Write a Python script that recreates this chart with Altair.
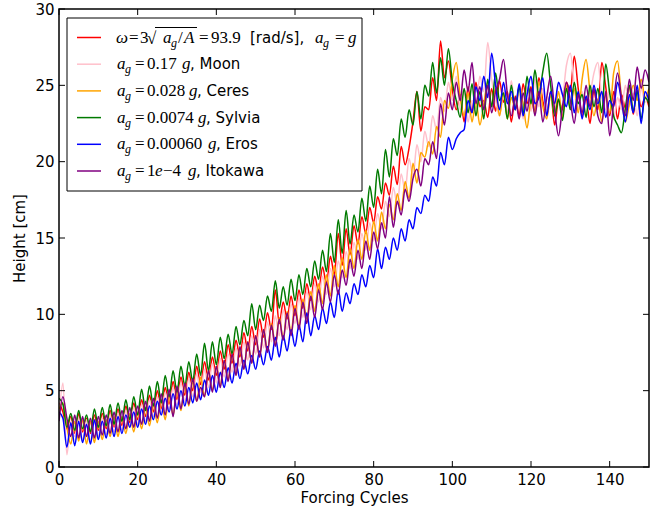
import altair as alt
import pandas as pd

# ---------------- data ----------------
cycles = list(range(151))

red = [4.2, 3.6, 2.5, 3.3, 2.2, 3.5, 2.3, 3.2, 2.2, 3.4,
       2.4, 3.5, 2.5, 3.7, 2.6, 3.8, 2.7, 4.0, 2.9, 4.2,
       3.1, 4.4, 3.3, 4.7, 3.6, 5.0, 3.8, 5.2, 4.1, 5.6,
       4.4, 5.9, 4.7, 6.2, 5.0, 6.6, 5.4, 6.9, 5.7, 7.2,
       6.0, 7.6, 6.4, 8.0, 6.8, 8.3, 7.2, 8.8, 7.6, 9.2,
       8.0, 9.7, 8.5, 10.1, 9.0, 11.6, 9.4, 10.8, 9.7, 11.2,
       9.9, 11.6, 10.4, 12.0, 10.9, 12.5, 11.5, 13.1, 12.0, 13.8,
       12.6, 15.3, 13.2, 15.6, 13.9, 15.8, 14.6, 16.4, 15.3, 17.0,
       16.0, 17.7, 16.9, 18.6, 17.8, 19.7, 18.5, 21.0, 19.8, 20.9,
       22.6, 24.6, 22.0, 23.6, 23.4, 25.5, 24.0, 27.9, 25.5, 26.6,
       24.7, 23.4, 24.4, 22.6, 24.9, 23.2, 25.2, 23.6, 24.0, 22.9,
       24.8, 23.3, 25.3, 23.9, 24.6, 22.6, 24.3, 23.0, 25.1, 23.8,
       24.9, 23.2, 25.5, 24.0, 23.1, 24.6, 22.4, 24.0, 23.4, 25.2,
       24.6, 26.9, 24.8, 23.0, 24.2, 22.5, 24.7, 23.4, 26.5, 24.9,
       23.0, 24.6, 22.8, 24.4, 23.5, 25.0, 23.1, 24.7, 23.6, 24.2,
       23.6]

moon = [3.2, 5.5, 0.8, 3.0, 2.0, 3.2, 1.7, 3.1, 1.6, 3.0,
        2.0, 3.2, 2.1, 3.4, 2.3, 3.5, 2.4, 3.7, 2.6, 3.9,
        2.8, 4.1, 3.0, 4.4, 3.3, 4.6, 3.5, 4.9, 3.8, 5.2,
        4.1, 5.5, 4.3, 5.8, 4.6, 6.1, 4.9, 6.4, 5.2, 6.8,
        5.5, 7.1, 5.9, 7.4, 6.2, 7.8, 6.6, 8.2, 7.0, 8.6,
        7.4, 9.0, 7.8, 9.5, 8.2, 9.9, 8.6, 10.3, 9.0, 10.7,
        9.4, 11.1, 9.8, 11.5, 10.3, 12.0, 10.8, 12.5, 11.3, 13.0,
        11.8, 13.5, 12.4, 14.1, 13.0, 14.7, 13.6, 15.3, 14.2, 16.0,
        14.8, 16.6, 15.6, 17.4, 16.4, 18.3, 17.2, 19.2, 18.1, 20.2,
        19.0, 21.1, 20.0, 22.0, 21.0, 23.0, 22.1, 24.2, 23.3, 25.2,
        24.0, 25.6, 23.4, 24.8, 22.6, 24.0, 23.5, 25.6, 24.6, 27.8,
        25.4, 24.0, 23.0, 24.7, 23.2, 25.3, 23.5, 24.4, 22.8, 24.9,
        23.3, 25.4, 23.6, 24.8, 22.9, 24.3, 23.2, 25.1, 24.4, 26.3,
        27.1, 25.0, 23.4, 24.6, 23.0, 24.3, 25.8, 26.5, 24.2, 23.4,
        24.8, 22.8, 24.2, 23.4, 25.0, 23.6, 24.5, 23.0, 24.8, 23.9,
        24.4]

ceres = [3.8, 4.2, 2.6, 1.5, 3.0, 1.7, 3.1, 1.5, 3.0, 1.6,
         3.0, 1.8, 3.1, 2.0, 3.3, 2.0, 3.3, 2.2, 3.5, 2.3,
         3.6, 2.5, 3.9, 2.7, 4.1, 2.9, 4.4, 3.1, 4.7, 3.4,
         5.0, 3.7, 5.3, 4.0, 5.6, 4.3, 5.9, 4.6, 6.3, 5.0,
         6.6, 5.3, 7.0, 5.7, 7.4, 6.0, 7.8, 6.4, 8.2, 6.8,
         8.6, 7.2, 9.0, 7.6, 9.4, 8.0, 9.8, 8.4, 10.2, 8.8,
         10.6, 9.2, 11.0, 9.7, 11.5, 10.2, 12.0, 10.7, 12.6, 11.2,
         13.2, 11.8, 13.7, 12.4, 14.3, 13.0, 14.9, 13.6, 15.5, 14.2,
         16.1, 14.8, 16.7, 15.6, 17.2, 16.2, 17.9, 16.8, 18.7, 17.6,
         19.9, 18.6, 20.6, 20.3, 21.3, 20.5, 22.3, 21.6, 24.0, 23.5,
         25.4, 26.5, 24.2, 23.0, 24.5, 22.6, 24.0, 22.4, 23.8, 25.2,
         23.6, 24.8, 23.0, 24.5, 22.8, 24.2, 23.4, 25.0, 23.8, 22.2,
         24.0, 23.2, 25.2, 23.6, 22.8, 24.4, 23.0, 24.6, 22.9, 25.0,
         23.5, 24.8, 23.2, 25.4, 26.7, 24.6, 23.0, 24.1, 22.6, 24.4,
         23.2, 25.8, 26.6, 24.2, 22.6, 23.8, 25.0, 24.0, 25.4, 24.2,
         24.8]

sylvia = [4.5, 4.1, 2.6, 3.5, 2.4, 3.7, 2.5, 3.4, 2.3, 3.8,
          2.6, 3.9, 2.7, 4.1, 2.8, 4.2, 3.0, 4.4, 3.1, 4.6,
          3.4, 5.1, 3.7, 5.3, 4.0, 5.6, 4.2, 6.0, 4.6, 6.3,
          4.9, 6.6, 5.3, 6.9, 5.6, 7.4, 6.0, 8.1, 6.3, 8.2,
          6.7, 8.5, 7.1, 8.7, 7.4, 9.2, 8.0, 9.6, 8.6, 10.7,
          9.0, 10.6, 9.6, 11.2, 10.2, 12.2, 10.4, 11.8, 10.6, 12.3,
          10.9, 12.6, 11.3, 13.0, 11.8, 13.5, 12.3, 14.2, 12.8, 15.3,
          13.4, 16.2, 14.0, 16.8, 14.6, 16.5, 15.4, 17.6, 16.1, 18.4,
          17.0, 19.5, 17.9, 20.8, 19.0, 21.5, 20.4, 22.8, 21.6, 23.4,
          22.4, 24.6, 22.8, 25.0, 24.3, 26.5, 24.5, 26.8, 25.0, 27.4,
          25.2, 24.0, 22.9, 24.8, 23.2, 25.1, 23.0, 24.6, 22.8, 25.4,
          23.6, 25.8, 24.0, 24.5, 22.8, 25.0, 23.4, 24.9, 23.1, 25.6,
          23.8, 26.0, 24.3, 25.9, 27.1, 25.0, 23.0, 24.1, 22.7, 24.8,
          23.4, 25.2, 23.8, 24.4, 22.9, 25.0, 23.6, 24.8, 23.2, 26.4,
          24.5, 23.0, 22.4, 21.9, 23.5, 25.0, 23.3, 24.6, 22.8, 24.2,
          23.8]

eros = [3.6, 3.2, 1.3, 2.9, 1.4, 3.0, 1.6, 2.8, 1.5, 3.1,
        1.8, 3.0, 1.9, 3.2, 2.0, 3.3, 2.2, 3.4, 2.6, 3.6,
        2.6, 3.8, 2.8, 4.0, 3.1, 4.3, 3.4, 4.5, 3.6, 4.8,
        3.8, 5.0, 4.0, 5.2, 4.2, 5.5, 4.4, 5.7, 4.7, 6.0,
        4.9, 6.2, 5.2, 6.5, 5.5, 6.8, 5.8, 7.0, 6.1, 7.3,
        6.4, 7.6, 6.7, 7.9, 7.0, 8.5, 7.2, 8.6, 7.6, 9.0,
        7.9, 9.3, 8.2, 10.1, 8.6, 9.9, 9.0, 10.4, 9.4, 10.8,
        9.8, 11.6, 10.2, 11.4, 10.7, 12.0, 11.3, 12.6, 11.8, 13.2,
        12.4, 14.3, 13.0, 14.4, 13.6, 15.0, 14.2, 15.6, 14.8, 16.2,
        15.6, 17.0, 16.6, 17.8, 17.4, 19.0, 18.4, 20.6, 19.8, 21.6,
        20.8, 21.5, 21.9, 22.1, 24.0, 23.2, 24.9, 24.0, 25.6, 24.2,
        27.1, 25.0, 23.4, 25.2, 23.8, 24.6, 23.4, 25.1, 23.0, 24.4,
        25.6, 23.8, 24.2, 25.5, 23.0, 24.6, 23.8, 25.2, 24.4, 23.6,
        25.0, 23.2, 24.6, 22.8, 24.3, 23.4, 25.0, 23.8, 24.6, 22.9,
        24.0, 23.6, 25.2, 24.0, 22.6, 24.4, 23.2, 25.0, 22.5, 24.6,
        24.0]

itokawa = [3.0, 4.6, 3.2, 2.0, 3.4, 1.9, 3.3, 2.0, 3.2, 1.9,
           3.3, 2.1, 3.4, 2.2, 3.6, 2.3, 3.7, 2.5, 3.9, 2.6,
           4.0, 2.8, 4.3, 3.0, 4.5, 3.2, 4.8, 3.4, 5.1, 3.3,
           5.3, 3.8, 5.5, 4.1, 5.8, 4.3, 5.2, 4.6, 6.3, 4.9,
           6.6, 5.2, 7.0, 5.6, 7.4, 6.0, 7.9, 6.4, 8.2, 6.8,
           8.6, 7.2, 9.0, 7.5, 9.3, 7.9, 9.7, 8.3, 10.1, 8.6,
           10.4, 9.0, 10.8, 9.4, 11.2, 9.8, 11.6, 10.3, 12.1, 10.8,
           12.6, 11.3, 12.9, 11.9, 13.6, 12.5, 14.2, 13.0, 14.8, 13.6,
           15.4, 14.3, 16.0, 15.0, 17.7, 15.7, 17.4, 16.5, 18.2, 17.4,
           18.9, 19.5, 18.4, 20.2, 19.8, 21.3, 20.2, 23.8, 22.4, 24.5,
           23.4, 25.2, 24.0, 26.0, 24.6, 26.5, 23.8, 24.9, 23.4, 25.0,
           23.2, 24.6, 25.4, 26.7, 24.4, 23.0, 24.2, 22.8, 24.5, 23.3,
           24.8, 23.0, 24.6, 22.6, 24.2, 25.6, 23.4, 21.7, 23.6, 25.2,
           24.0, 22.5, 24.4, 23.2, 25.0, 23.6, 24.8, 23.0, 22.5, 24.6,
           21.7, 23.8, 25.8, 24.2, 23.0, 25.4, 24.0, 26.2, 24.8, 26.0,
           25.2]

series_names = ["red", "Moon", "Ceres", "Sylvia", "Eros", "Itokawa"]
series_values = [red, moon, ceres, sylvia, eros, itokawa]
series_colors = ["#ff0000", "#ffc0cb", "#ffa500", "#007a00", "#0000ff", "#800080"]

x_ticks = [0, 20, 40, 60, 80, 100, 120, 140]
y_ticks = [0, 5, 10, 15, 20, 25, 30]

# ---------------- layout constants (pixels) ----------------
W, H = 590, 458
LEFT, TOP = 59, 9
SERIF = "Liberation Serif"
SANS = "DejaVu Sans"

xs = alt.Scale(domain=[0, 150], nice=False, zero=False)
ys = alt.Scale(domain=[0, 30], nice=False, zero=False)
axis_style = dict(ticks=False, domain=False, grid=False, labelFlush=False,
                  labelFont=SANS, labelFontSize=15, labelColor="black",
                  titleFont=SANS, titleFontSize=15, titleColor="black",
                  titleFontWeight="normal")
x_axis = alt.Axis(values=x_ticks, title="Forcing Cycles", labelPadding=5,
                  titlePadding=3, **axis_style)
y_axis = alt.Axis(values=y_ticks, title="Height [cm]", labelPadding=5,
                  titlePadding=7, **axis_style)


def X(field):
    return alt.X(field, scale=xs, axis=x_axis, title="Forcing Cycles")


def Y(field):
    return alt.Y(field, scale=ys, axis=y_axis, title="Height [cm]")


layers = []
for name, vals, col in zip(series_names, series_values, series_colors):
    df = pd.DataFrame({"cycle": cycles, "height": vals})
    layers.append(
        alt.Chart(df).mark_line(color=col, strokeWidth=1.5, interpolate="monotone", clip=True)
        .encode(x=X("cycle:Q"), y=Y("height:Q"))
    )

# inward ticks on all four sides
xt = pd.DataFrame({"t": x_ticks})
yt = pd.DataFrame({"t": y_ticks})
TL = 6
for y0, y1 in [(H - TL, H), (0, TL)]:
    layers.append(alt.Chart(xt).mark_rule(color="black", strokeWidth=1).encode(
        x=X("t:Q"), y=alt.value(y0), y2=alt.value(y1)))
for x0, x1 in [(0, TL), (W - TL, W)]:
    layers.append(alt.Chart(yt).mark_rule(color="black", strokeWidth=1).encode(
        y=Y("t:Q"), x=alt.value(x0), x2=alt.value(x1)))

one = pd.DataFrame({"k": [0]})
# plot frame
layers.append(alt.Chart(one).mark_rect(fill="transparent", stroke="black", strokeWidth=1.5).encode(
    x=alt.value(0), x2=alt.value(W), y=alt.value(0), y2=alt.value(H)))

# ---------------- legend (drawn by hand for the math labels) ----------------
layers.append(alt.Chart(one).mark_rect(fill="white", stroke="black", strokeWidth=1).encode(
    x=alt.value(67 - LEFT), x2=alt.value(362 - LEFT),
    y=alt.value(18 - TOP), y2=alt.value(191 - TOP)))


def seg(text, xa, ya, font=SERIF, size=17, style="normal", dy=0):
    return alt.Chart(one).mark_text(
        text=text, align="left", baseline="middle", font=font, fontSize=size,
        fontStyle=style, color="black").encode(
        x=alt.value(xa - LEFT), y=alt.value(ya - TOP + dy))


row_y = [37.5, 64.2, 90.9, 117.6, 144.3, 171.0]
for col, ry in zip(series_colors, row_y):
    layers.append(alt.Chart(one).mark_rule(color=col, strokeWidth=1.5).encode(
        x=alt.value(77 - LEFT), x2=alt.value(101 - LEFT), y=alt.value(ry - TOP)))

# row 1
r = row_y[0]
layers += [
    seg("ω", 116, r, style="italic"),
    seg("=", 129, r),
    seg("3", 140, r),
    seg("√", 147, r + 1),
    seg("a", 163, r, style="italic"),
    seg("g", 171, r, size=12, style="italic", dy=5),
    seg("/", 178, r),
    seg("A", 184, r, style="italic"),
    seg("=", 199, r),
    seg("93.9", 211, r),
    seg("[rad/s],", 250, r, font=SANS, size=15),
    seg("a", 315, r, style="italic"),
    seg("g", 323, r, size=12, style="italic", dy=5),
    seg("=", 335, r),
    seg("g", 348, r, style="italic"),
]
layers.append(alt.Chart(one).mark_rule(color="black", strokeWidth=1).encode(
    x=alt.value(155 - LEFT), x2=alt.value(197 - LEFT), y=alt.value(r - 10 - TOP)))

rows = [
    ("0.17", 182, ", Moon"),
    ("0.028", 189, ", Ceres"),
    ("0.0074", 198, ", Sylvia"),
    ("0.00060", 208, ", Eros"),
]
for (num, gx, name), ry in zip(rows, row_y[1:5]):
    layers += [
        seg("a", 117, ry, style="italic"),
        seg("g", 125, ry, size=12, style="italic", dy=5),
        seg("=", 135, ry),
        seg(num, 147, ry),
        seg("g", gx, ry, style="italic"),
        seg(name, gx + 8, ry, font=SANS, size=15),
    ]
r = row_y[5]
layers += [
    seg("a", 117, r, style="italic"),
    seg("g", 125, r, size=12, style="italic", dy=5),
    seg("=", 135, r),
    seg("1", 147, r),
    seg("e", 155, r, style="italic"),
    seg("−4", 163, r),
    seg("g", 188, r, style="italic"),
    seg(", Itokawa", 196, r, font=SANS, size=15),
]

chart = alt.layer(*layers).properties(
    width=W, height=H,
    background="white",
    autosize=alt.AutoSizeParams(type="none"),
    padding={"left": LEFT, "top": TOP, "right": 660 - LEFT - W, "bottom": 509 - TOP - H},
).configure_view(stroke=None)

chart.save("out.html", embed_options={"renderer": "svg", "actions": False})
